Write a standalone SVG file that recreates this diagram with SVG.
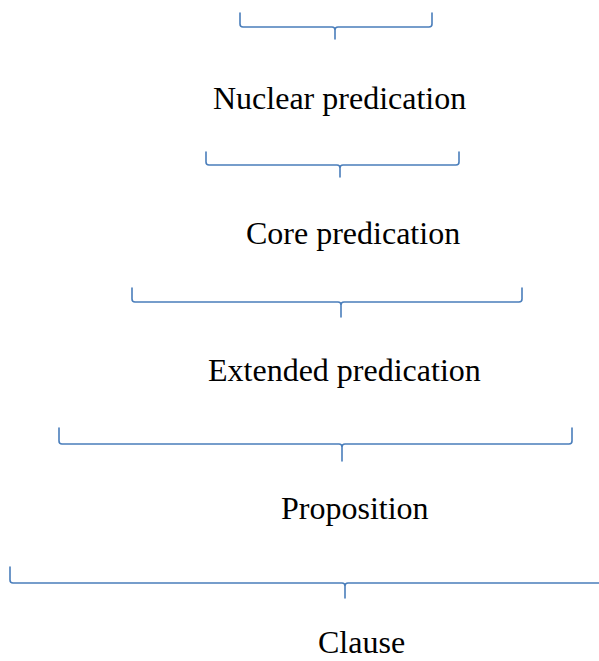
<svg xmlns="http://www.w3.org/2000/svg" width="599" height="661" viewBox="0 0 599 661">
<style>
.b{fill:none;stroke:#4a7ebb;stroke-width:1.6;stroke-linejoin:round;stroke-linecap:round}
.t{font-family:"Liberation Serif","Times New Roman",serif;font-size:32px;fill:#000}
</style>
<rect width="599" height="661" fill="#fff"/>
<g id="connectors">
<path class="b" d="M240,13 V24 Q240,27 243,27 H332 Q335,27 335,30 V39 V30 Q335,27 338,27 H429 Q432,27 432,24 V13"/>
<path class="b" d="M206,152 V162 Q206,165 209,165 H337 Q340,165 340,168 V177 V168 Q340,165 343,165 H456 Q459,165 459,162 V152"/>
<path class="b" d="M132,288 V299 Q132,302 135,302 H338 Q341,302 341,305 V317 V305 Q341,302 344,302 H519 Q522,302 522,299 V288"/>
<path class="b" d="M59,428 V441 Q59,444 62,444 H339 Q342,444 342,447 V461 V447 Q342,444 345,444 H569 Q572,444 572,441 V428"/>
<path class="b" d="M10,567 V580 Q10,583 13,583 H342 Q345,583 345,586 V598 V586 Q345,583 348,583 H605"/>
</g>
<g id="nuclear"><text class="t" x="213" y="109">Nuclear predication</text></g>
<g id="core"><text class="t" x="246" y="244">Core predication</text></g>
<g id="extended"><text class="t" x="208" y="381">Extended predication</text></g>
<g id="proposition"><text class="t" x="281" y="519">Proposition</text></g>
<g id="clause"><text class="t" x="318" y="653">Clause</text></g>
</svg>
